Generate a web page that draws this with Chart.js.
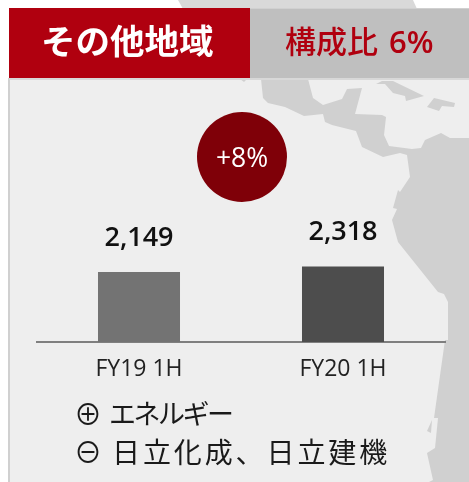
<!DOCTYPE html>
<html lang="ja">
<head>
<meta charset="utf-8">
<style>
html,body{margin:0;padding:0;background:#fff;}
#stage{position:relative;width:469px;height:482px;overflow:hidden;font-family:"Open Sans","Noto Sans CJK JP",sans-serif;}
#map,#c,.t,.box{position:absolute;}
#map{left:0;top:0;}
#c{left:0;top:0;}
.t{white-space:nowrap;line-height:1;}
</style>
</head>
<body>
<div id="stage">
<svg id="map" width="469" height="482" viewBox="0 0 469 482">
<polygon points="178,0 413,0 417,9 183,9" fill="#d9d9d9"/>
<rect x="8" y="78" width="461" height="404" fill="#eeeeee"/>
<rect x="8" y="78" width="2" height="404" fill="#d0d0d0"/>
<g fill="#d0d0d0">
<polygon points="261,79 263,98 268,103 285,107 304,116 323,114 325,122 332,125 356,131 362,147 383,157 400,153 407,155 410,177 400,192 398,190 393,208 397,209 392,220 398,242 438,292 444,294 448,302 448,340 445,340 434,418 438,418 435,448 427,453 433,480 429,482 469,482 469,138 450,138 441,133 425,140 421,148 412,149 389,146 384,135 386,117 382,115 355,114 362,88 347,89 342,99 323,105 313,98 308,79"/>
<polygon points="376,84 382,81 393,81 424,96 406,101 405,96 393,93 385,84"/>
<polygon points="434,98 455,103 454,107 442,106 439,111 427,107"/>
<polygon points="432,420 427,431 431,433"/>
<polygon points="240,79 247,79 244,82"/>
</g>
<rect x="9" y="8" width="241" height="70" fill="#b0000f"/>
<rect x="250" y="8" width="219" height="70" fill="#bfbfbf"/>
<rect x="250" y="8" width="219" height="1" fill="#d0d0d0"/>
<rect x="9" y="78" width="460" height="2" fill="#d8d8d8"/>
<circle cx="242" cy="157" r="45" fill="#7f0008"/>
</svg>
<canvas id="c" width="469" height="482"></canvas>
<div class="t" style="left:41px;top:24px;font-size:34.5px;font-weight:700;color:#fff;">その他地域</div>
<div class="t" style="left:285px;top:26px;font-size:31px;font-weight:500;color:#b0000f;word-spacing:3px;">構成比 <span style="font-weight:600;">6%</span></div>
<div class="t" style="left:242px;top:157px;transform:translate(-50%,-50%);font-size:26.5px;color:#fff;">+8%</div>
<div class="t" style="left:74px;top:400px;font-size:28px;color:#1a1a1a;">⊕</div>
<div class="t" style="left:109px;top:400px;font-size:27px;letter-spacing:-2.5px;color:#1a1a1a;">エネルギー</div>
<div class="t" style="left:74px;top:438px;font-size:28px;color:#1a1a1a;">⊖</div>
<div class="t" style="left:112px;top:438px;font-size:28px;letter-spacing:2.9px;color:#1a1a1a;">日立化成、日立建機</div>
</div>
<script src="https://cdn.jsdelivr.net/npm/chart.js@4"></script>
<script>
const categories = ["FY19 1H", "FY20 1H"];
const revenue = [2149, 2318];
const barColors = ["#737373", "#4d4d4d"];
const FONT = '"Open Sans","Noto Sans CJK JP",sans-serif';

const valueLabels = {
  id: "valueLabels",
  afterDatasetsDraw(chart) {
    const ctx = chart.ctx;
    const meta = chart.getDatasetMeta(0);
    ctx.save();
    ctx.font = "600 27px " + FONT;
    ctx.fillStyle = "#111";
    ctx.textAlign = "center";
    ctx.textBaseline = "middle";
    meta.data.forEach((el, i) => {
      ctx.fillText(revenue[i].toLocaleString("en-US"), el.x, el.y - 34);
    });
    ctx.restore();
  }
};

new Chart(document.getElementById("c"), {
  type: "bar",
  data: {
    labels: categories,
    datasets: [{ data: revenue, backgroundColor: barColors, barPercentage: 0.402, categoryPercentage: 1 }]
  },
  options: {
    responsive: false,
    animation: false,
    layout: { padding: { left: 37, right: 24, top: 83, bottom: 0 } },
    plugins: { legend: { display: false }, tooltip: { enabled: false } },
    scales: {
      y: { display: false, min: 0, max: 7950 },
      x: {
        afterFit(s) { s.height = 140; },
        grid: { display: false, drawTicks: false },
        border: { color: "#7f7f7f", width: 2 },
        ticks: { color: "#222", font: { size: 23, family: FONT }, padding: 14, maxRotation: 0 }
      }
    }
  },
  plugins: [valueLabels]
});
</script>
</body>
</html>
